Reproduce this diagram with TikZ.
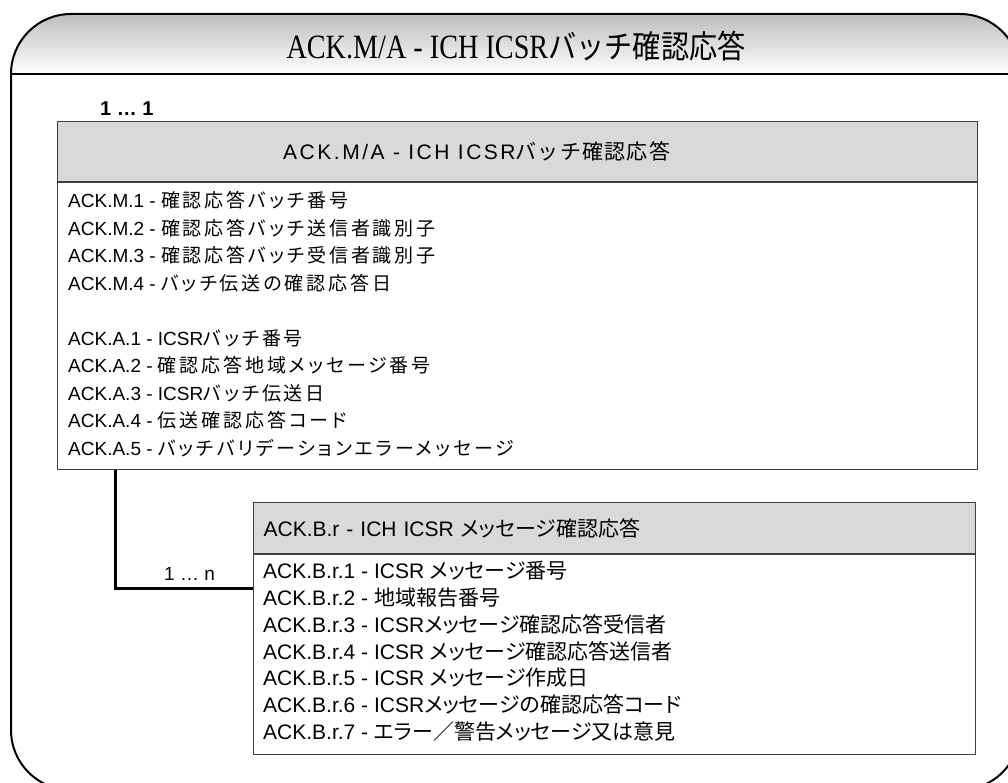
\documentclass[tikz,border=0pt]{standalone}
\usepackage{fontspec}
\setmainfont{Liberation Sans}
\newfontfamily\jafont{Noto Sans CJK JP}[RawFeature=+palt, LetterSpace=15]
\newfontfamily\jbfont{Noto Sans CJK JP}[RawFeature=+palt]
\newfontfamily\jcfont{Noto Sans CJK JP}[LetterSpace=6]
\newfontfamily\hdfont{Liberation Sans}[LetterSpace=12]
\newfontfamily\ttlfont{Liberation Serif}[FakeStretch=0.83]
\newfontfamily\ttljafont{Noto Sans CJK JP}[FakeStretch=0.88]
\newcommand{\ja}[1]{{\jafont #1}}
\newcommand{\jb}[1]{{\jbfont #1}}
\usetikzlibrary{positioning}
\tikzset{
    hdbox/.style={draw=black!75, fill=black!15, line width=1.2pt, anchor=north west, inner sep=0pt},
    bodybox/.style={draw=black!75, fill=white, line width=1.2pt, anchor=north west, inner sep=0pt},
    rowtxt/.style={anchor=north west, inner sep=0pt, align=left},
    link/.style={line width=3pt}
}
\begin{document}
\begin{tikzpicture}[x=1pt, y=-1pt, font=\fontsize{19}{27.5}\selectfont]
            \useasboundingbox (0,0) rectangle (1008,783);
            \begin{scope}
                \clip (0,14) rectangle (1008,74);
                \shade[top color=black!26, bottom color=white, middle color=white, rounded corners=60pt] (11,14) rectangle (1020,134);
            \end{scope}
            \draw[line width=2pt, rounded corners=60pt] (11,14) rectangle (1020,790);
            \draw[line width=2pt] (11,74) -- (1008,74);

            \node (ttl) at (516,46) {\ttlfont\fontsize{34}{34}\selectfont ACK.M/A - ICH ICSR\ttljafont\fontsize{32}{34}\selectfont バッチ確認応答};

            \node[hdbox, minimum width=920pt, minimum height=60pt] (mahead) at (57,121) {};
            \node[anchor=west, inner sep=0pt, font=\fontsize{21}{21}\selectfont] (mahtxt) at ([xshift=226pt]mahead.west) {\hdfont ACK.M/A - ICH ICSR\jcfont バッチ確認応答};
            \node[bodybox, minimum width=920pt, minimum height=287pt] (mabody) at (mahead.south west) {};
            \node[above right=5pt and 43pt of mahead.north west, inner sep=0pt, font=\bfseries\fontsize{20}{20}\selectfont] (mult1) {1 … 1};
            \node[rowtxt] (malist) at ([xshift=11pt, yshift=-9pt]mabody.north west) {ACK.M.1 - \ja{確認応答バッチ番号}\\
                ACK.M.2 - \ja{確認応答バッチ送信者識別子}\\
                ACK.M.3 - \ja{確認応答バッチ受信者識別子}\\
                ACK.M.4 - \ja{バッチ伝送の確認応答日}\\[27.5pt]
                ACK.A.1 - ICSR\ja{バッチ番号}\\
                ACK.A.2 - \ja{確認応答地域メッセージ番号}\\
                ACK.A.3 - ICSR\ja{バッチ伝送日}\\
                ACK.A.4 - \ja{伝送確認応答コード}\\
                ACK.A.5 - \ja{バッチバリデーションエラーメッセージ}};

            \node[hdbox, minimum width=722pt, minimum height=51pt, inner xsep=10pt, text width=702pt, align=left, font=\fontsize{21}{21}\selectfont] (brhead) at (253,502) {ACK.B.r - ICH ICSR \jb{メッセージ確認応答}};
            \node[bodybox, minimum width=722pt, minimum height=200pt] (brbody) at (brhead.south west) {};
            \node[rowtxt, font=\fontsize{21}{26.8}\selectfont] (brlist) at ([xshift=10pt, yshift=-7pt]brbody.north west) {ACK.B.r.1 - ICSR \jb{メッセージ番号}\\
                ACK.B.r.2 - \jb{地域報告番号}\\
                ACK.B.r.3 - ICSR\jb{メッセージ確認応答受信者}\\
                ACK.B.r.4 - ICSR \jb{メッセージ確認応答送信者}\\
                ACK.B.r.5 - ICSR \jb{メッセージ作成日}\\
                ACK.B.r.6 - ICSR\jb{メッセージの確認応答コード}\\
                ACK.B.r.7 - \jb{エラー／警告メッセージ又は意見}};

            \coordinate (brjoin) at ([yshift=-34pt]brbody.north west);
            \draw[link] ([xshift=58pt]mabody.south west) |- (brjoin) node[pos=0.77, above=3pt] (multn) {1 … n};
        \end{tikzpicture}
\end{document}
